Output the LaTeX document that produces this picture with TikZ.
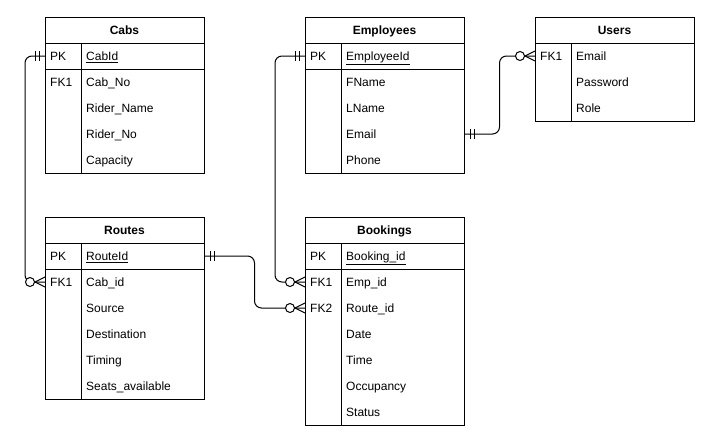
\documentclass[tikz,border=0pt]{standalone}
\usepackage{fontspec}
\setmainfont{Liberation Sans}
\usetikzlibrary{calc}
\tikzset{
  tline/.style={draw=black, line width=1pt},
  tblbox/.style={draw=black, line width=1pt, fill=white, rectangle, inner sep=0pt, outer sep=0pt},
  rowbox/.style={rectangle, inner sep=0pt, outer sep=0pt, minimum width=159pt, minimum height=26pt, anchor=north west},
  titletxt/.style={inner sep=0pt, anchor=base, font=\fontsize{12}{14}\selectfont\bfseries},
  keytxt/.style={inner sep=0pt, anchor=base west, font=\fontsize{12}{14}\selectfont},
  fldtxt/.style={inner sep=0pt, anchor=base west, font=\fontsize{12}{14}\selectfont},
  conn/.style={draw=black, line width=1pt, rounded corners=7pt},
}
\newcommand{\etable}[5]{%
  \node[tblbox, minimum width=159pt, minimum height=#4pt, anchor=north west] (#1) at (#2,#3) {};
  \draw[tline] ([yshift=-26pt]#1.north west) -- ([yshift=-26pt]#1.north east);
  \draw[tline] ([yshift=-52pt]#1.north west) -- ([yshift=-52pt]#1.north east);
  \draw[tline] ([xshift=36pt,yshift=-26pt]#1.north west) -- ([xshift=36pt]#1.south west);
  \node[titletxt] (#1-t) at ([yshift=-17.3pt]#1.north) {#5};
}
\newcommand{\erow}[5]{%
  \node[rowbox] (#1) at (#2,#3) {};
  \node[keytxt] (#1-k) at ([xshift=5pt,yshift=-4.3pt]#1.west) {#4};
  \node[fldtxt] (#1-f) at ([xshift=41pt,yshift=-4.3pt]#1.west) {#5};
}
\newcommand{\onemark}[2]{%
  \draw[tline] ([xshift=#2*6pt,yshift=5pt]#1) -- ([xshift=#2*6pt,yshift=-5pt]#1);
  \draw[tline] ([xshift=#2*10pt,yshift=5pt]#1) -- ([xshift=#2*10pt,yshift=-5pt]#1);
}
\newcommand{\manymark}[2]{%
  \draw[tline] ([yshift=5pt]#1) -- ([xshift=#2*10pt]#1) -- ([yshift=-5pt]#1);
  \draw[tline, fill=white] ([xshift=#2*15pt]#1) circle[radius=4.5pt];
}
\begin{document}
\begin{tikzpicture}[x=1pt, y=-1pt]
\useasboundingbox[fill=white] (0,0) rectangle (723,442);

% Cabs
\etable{cabs}{45}{17}{156}{Cabs}
\erow{cabs-pk}{45}{43}{PK}{\underline{CabId}}
\erow{cabs-r1}{45}{69}{FK1}{Cab\_No}
\erow{cabs-r2}{45}{95}{}{Rider\_Name}
\erow{cabs-r3}{45}{121}{}{Rider\_No}
\erow{cabs-r4}{45}{147}{}{Capacity}

% Employees
\etable{emp}{305}{17}{156}{Employees}
\erow{emp-pk}{305}{43}{PK}{\underline{EmployeeId}}
\erow{emp-r1}{305}{69}{}{FName}
\erow{emp-r2}{305}{95}{}{LName}
\erow{emp-r3}{305}{121}{}{Email}
\erow{emp-r4}{305}{147}{}{Phone}

% Users
\node[tblbox, minimum width=159pt, minimum height=104pt, anchor=north west] (users) at (535,17) {};
\draw[tline] ([yshift=-26pt]users.north west) -- ([yshift=-26pt]users.north east);
\draw[tline] ([xshift=36pt,yshift=-26pt]users.north west) -- ([xshift=36pt]users.south west);
\node[titletxt] (users-t) at ([yshift=-17.3pt]users.north) {Users};
\erow{users-r1}{535}{43}{FK1}{Email}
\erow{users-r2}{535}{69}{}{Password}
\erow{users-r3}{535}{95}{}{Role}

% Routes
\etable{routes}{45}{217}{182}{Routes}
\erow{routes-pk}{45}{243}{PK}{\underline{RouteId}}
\erow{routes-r1}{45}{269}{FK1}{Cab\_id}
\erow{routes-r2}{45}{295}{}{Source}
\erow{routes-r3}{45}{321}{}{Destination}
\erow{routes-r4}{45}{347}{}{Timing}
\erow{routes-r5}{45}{373}{}{Seats\_available}

% Bookings
\etable{book}{305}{217}{208}{Bookings}
\erow{book-pk}{305}{243}{PK}{\underline{Booking\_id}}
\erow{book-r1}{305}{269}{FK1}{Emp\_id}
\erow{book-r2}{305}{295}{FK2}{Route\_id}
\erow{book-r3}{305}{321}{}{Date}
\erow{book-r4}{305}{347}{}{Time}
\erow{book-r5}{305}{373}{}{Occupancy}
\erow{book-r6}{305}{399}{}{Status}

% Connectors
\draw[conn] (cabs-pk.west) -- ++(-20,0) |- (routes-r1.west);
\onemark{cabs-pk.west}{-1}
\manymark{routes-r1.west}{-1}

\draw[conn] (emp-pk.west) -- ++(-30,0) |- (book-r1.west);
\onemark{emp-pk.west}{-1}
\manymark{book-r1.west}{-1}

\draw[conn] (routes-pk.east) -- ++(50.5,0) |- (book-r2.west);
\onemark{routes-pk.east}{1}
\manymark{book-r2.west}{-1}

\draw[conn] (emp-r3.east) -- ++(35.5,0) |- (users-r1.west);
\onemark{emp-r3.east}{1}
\manymark{users-r1.west}{-1}
\end{tikzpicture}
\end{document}
